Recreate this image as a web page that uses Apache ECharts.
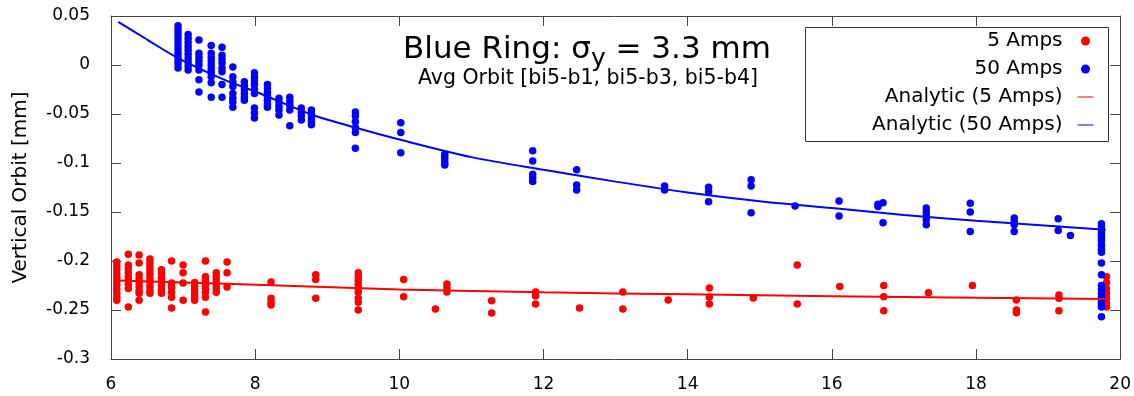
<!DOCTYPE html>
<html>
<head>
<meta charset="utf-8">
<script src="https://cdn.jsdelivr.net/npm/echarts@6/dist/echarts.min.js"></script>
<style>
  html, body { margin: 0; padding: 0; background: #ffffff; }
  #chart { width: 1134px; height: 396px; }
</style>
</head>
<body>
<div id="chart"></div>
<script>
// Bunch position along the ring (x) for each measured column, and the readings in that column (mm)
const amps5Cols = [6.08, 6.24, 6.39, 6.54, 6.70, 6.84, 7.00, 7.16, 7.31, 7.46, 7.61, 8.22, 8.84, 9.43,
  10.06, 10.50, 10.66, 11.28, 11.89, 12.50, 13.10, 13.73, 14.30, 14.91, 15.52, 16.11, 16.72, 17.34,
  17.95, 18.56, 19.15, 19.81];
const amps5Vals = [
  [-0.201, -0.205, -0.209, -0.213, -0.217, -0.221, -0.225, -0.229, -0.233, -0.237, -0.240],
  [-0.193, -0.204, -0.208, -0.212, -0.216, -0.220, -0.224, -0.228, -0.247],
  [-0.194, -0.202, -0.214, -0.218, -0.222, -0.226, -0.230, -0.233, -0.240],
  [-0.198, -0.202, -0.206, -0.210, -0.214, -0.218, -0.222, -0.226, -0.230, -0.233],
  [-0.209, -0.213, -0.217, -0.221, -0.225, -0.229, -0.233],
  [-0.200, -0.2225, -0.227, -0.232, -0.237, -0.248],
  [-0.204, -0.212, -0.2225, -0.240],
  [-0.222, -0.226, -0.230, -0.234, -0.237, -0.240],
  [-0.200, -0.216, -0.220, -0.224, -0.228, -0.232, -0.237, -0.252],
  [-0.212, -0.216, -0.220, -0.224, -0.228, -0.232],
  [-0.201, -0.212, -0.2265],
  [-0.2215, -0.238, -0.242, -0.245],
  [-0.214, -0.219, -0.238],
  [-0.212, -0.216, -0.220, -0.224, -0.228, -0.232, -0.238, -0.242, -0.250],
  [-0.219, -0.2365],
  [-0.249],
  [-0.2235, -0.2275, -0.2316],
  [-0.2405, -0.253],
  [-0.2316, -0.2357, -0.244],
  [-0.248],
  [-0.2316, -0.249],
  [-0.2398],
  [-0.2276, -0.2367, -0.244],
  [-0.2378],
  [-0.204, -0.244],
  [-0.226],
  [-0.225, -0.2364, -0.2507],
  [-0.2323],
  [-0.225],
  [-0.2398, -0.250, -0.2528],
  [-0.2347, -0.238, -0.2507],
  [-0.216, -0.222, -0.228, -0.233, -0.238, -0.243, -0.247]
];

const amps50Cols = [6.93, 7.07, 7.22, 7.39, 7.54, 7.69, 7.85, 7.99, 8.17, 8.33, 8.48, 8.64, 8.78,
  9.39, 10.02, 10.63, 11.85, 12.46, 13.68, 14.29, 14.88, 15.49, 16.10, 16.64, 16.71, 17.31, 17.92,
  18.53, 19.14, 19.31, 19.74];
const amps50Vals = [
  [0.040, 0.036, 0.032, 0.028, 0.024, 0.020, 0.016, 0.012, 0.008, 0.004, 0.001, -0.003],
  [0.031, 0.027, 0.023, 0.019, 0.015, 0.011, 0.007, 0.003, -0.001, -0.005],
  [0.0255, 0.012, 0.008, 0.004, 0.000, -0.005, -0.015, -0.0275],
  [0.020, 0.012, 0.008, 0.004, 0.000, -0.004, -0.008, -0.012, -0.018, -0.033],
  [0.018, 0.010, 0.006, 0.002, -0.003, -0.007, -0.020, -0.033],
  [-0.002, -0.012, -0.017, -0.022, -0.029, -0.034, -0.038, -0.043],
  [-0.017, -0.021, -0.025, -0.029, -0.033, -0.036],
  [-0.008, -0.012, -0.016, -0.020, -0.025, -0.029, -0.044, -0.049, -0.054],
  [-0.020, -0.024, -0.028, -0.032, -0.036, -0.040, -0.043],
  [-0.034, -0.038, -0.042, -0.046, -0.051],
  [-0.033, -0.037, -0.041, -0.046, -0.062],
  [-0.044, -0.048, -0.052, -0.056],
  [-0.046, -0.050, -0.054, -0.058, -0.061],
  [-0.048, -0.052, -0.058, -0.064, -0.069, -0.085],
  [-0.059, -0.069, -0.0895],
  [-0.091, -0.094, -0.097, -0.100, -0.102],
  [-0.0875, -0.098, -0.1115, -0.115, -0.119],
  [-0.107, -0.1225, -0.1275],
  [-0.1235, -0.1275],
  [-0.1248, -0.1293, -0.1395],
  [-0.117, -0.1235, -0.1507],
  [-0.1439],
  [-0.1388, -0.154],
  [-0.142, -0.1445],
  [-0.1405, -0.161],
  [-0.146, -0.150, -0.154, -0.158, -0.163],
  [-0.141, -0.150, -0.170],
  [-0.156, -0.160, -0.163, -0.170],
  [-0.157, -0.169],
  [-0.174],
  [-0.162, -0.165, -0.168, -0.171, -0.174, -0.177, -0.180, -0.184, -0.188, -0.191, -0.202,
   -0.214, -0.225, -0.229, -0.233, -0.237, -0.241, -0.244, -0.247, -0.257]
];

// Analytic orbit curves, sampled along the ring
const analytic5X = [6.1, 7.7, 10, 12, 14, 16, 18, 19.8];
const analytic5Y = [-0.220, -0.2235, -0.229, -0.232, -0.234, -0.236, -0.2375, -0.2388];
const analytic50X = [6.1, 6.5, 6.93, 7.6, 8, 8.8, 9.4, 10, 11, 12, 13, 14, 15, 16, 17, 18, 19, 19.8];
const analytic50Y = [0.044, 0.026, 0.007, -0.016, -0.027, -0.051, -0.064, -0.076, -0.094, -0.107,
  -0.119, -0.130, -0.139, -0.146, -0.153, -0.159, -0.164, -0.168];

const seriesNames = ['5 Amps', '50 Amps', 'Analytic (5 Amps)', 'Analytic (50 Amps)'];
const xTicks = { min: 6, max: 20, step: 2 };
const yTicks = { min: -0.3, max: 0.05, step: 0.05 };

const FONT = 'DejaVu Sans';

function columnsToPoints(cols, vals) {
  const pts = [];
  cols.forEach((x, i) => vals[i].forEach(y => pts.push([x, y])));
  return pts;
}
function zipXY(xs, ys) {
  return xs.map((x, i) => [x, ys[i]]);
}

const frameColor = '#444';
const axisCommon = {
  axisLine: { show: true, onZero: false, lineStyle: { color: frameColor, width: 1 } },
  axisTick: { show: true, inside: true, length: 10, lineStyle: { color: frameColor, width: 1 } },
  splitLine: { show: false }
};

const chart = echarts.init(document.getElementById('chart'), null, { renderer: 'canvas' });

chart.setOption({
  animation: false,
  backgroundColor: '#ffffff',
  textStyle: { fontFamily: FONT },
  grid: { left: 111, right: 11, top: 16, bottom: 37, containLabel: false },
  title: [
    {
      text: '{a|Blue Ring: σ}{s|y}{a| = 3.3 mm}',
      left: 398, top: 23,
      textStyle: {
        fontWeight: 'normal',
        rich: {
          a: { fontFamily: FONT, fontSize: 31, fontWeight: 'normal', color: '#000', lineHeight: 44 },
          s: { fontFamily: FONT, fontSize: 25, fontWeight: 'normal', color: '#000', lineHeight: 25, padding: [19, 0, 0, 0] }
        }
      }
    },
    {
      text: 'Avg Orbit [bi5-b1, bi5-b3, bi5-b4]',
      left: 413, top: 63,
      textStyle: { fontFamily: FONT, fontSize: 20.5, fontWeight: 'normal', color: '#000' }
    }
  ],
  legend: {
    orient: 'vertical',
    align: 'right',
    right: 40, top: 31,
    padding: 0,
    itemGap: 8,
    itemWidth: 16, itemHeight: 9,
    textStyle: { fontFamily: FONT, fontSize: 20, color: '#000', padding: [0, 10, 0, 0] },
    data: [
      { name: seriesNames[0], icon: 'circle' },
      { name: seriesNames[1], icon: 'circle' },
      { name: seriesNames[2], itemStyle: { opacity: 0 }, lineStyle: { width: 1 } },
      { name: seriesNames[3], itemStyle: { opacity: 0 }, lineStyle: { width: 1 } }
    ]
  },
  graphic: [
    {
      type: 'rect', z: 100, silent: true,
      shape: { x: 805.5, y: 27.5, width: 303, height: 114 },
      style: { fill: 'none', stroke: '#333', lineWidth: 1 }
    }
  ],
  xAxis: [
    Object.assign({
      type: 'value', position: 'bottom',
      min: xTicks.min, max: xTicks.max, interval: xTicks.step,
      axisLabel: { show: true, margin: 17, fontFamily: FONT, fontSize: 17, color: '#000' }
    }, axisCommon),
    Object.assign({
      type: 'value', position: 'top',
      min: xTicks.min, max: xTicks.max, interval: xTicks.step,
      axisLabel: { show: false }
    }, axisCommon)
  ],
  yAxis: [
    Object.assign({
      type: 'value', position: 'left',
      min: yTicks.min, max: yTicks.max, interval: yTicks.step,
      name: 'Vertical Orbit [mm]', nameLocation: 'middle', nameGap: 80,
      nameTextStyle: { fontFamily: FONT, fontSize: 20, color: '#000' },
      axisLabel: {
        show: true, margin: 21, fontFamily: FONT, fontSize: 17, color: '#000',
        formatter: v => String(Math.round(v * 100) / 100)
      }
    }, axisCommon),
    Object.assign({
      type: 'value', position: 'right',
      min: yTicks.min, max: yTicks.max, interval: yTicks.step,
      axisLabel: { show: false }
    }, axisCommon)
  ],
  series: [
    {
      name: seriesNames[0], type: 'scatter', xAxisIndex: 0, yAxisIndex: 0,
      symbol: 'circle', symbolSize: 7.5,
      itemStyle: { color: '#ff0000', opacity: 1 },
      data: columnsToPoints(amps5Cols, amps5Vals)
    },
    {
      name: seriesNames[1], type: 'scatter', xAxisIndex: 0, yAxisIndex: 0,
      symbol: 'circle', symbolSize: 7.5,
      itemStyle: { color: '#0000ff', opacity: 1 },
      data: columnsToPoints(amps50Cols, amps50Vals)
    },
    {
      name: seriesNames[2], type: 'line', xAxisIndex: 0, yAxisIndex: 0,
      symbol: 'none', smooth: 0.3,
      lineStyle: { color: '#ff0000', width: 2 },
      itemStyle: { color: '#ff0000' },
      data: zipXY(analytic5X, analytic5Y)
    },
    {
      name: seriesNames[3], type: 'line', xAxisIndex: 0, yAxisIndex: 0,
      symbol: 'none', smooth: 0.3,
      lineStyle: { color: '#0000ff', width: 2 },
      itemStyle: { color: '#0000ff' },
      data: zipXY(analytic50X, analytic50Y)
    }
  ]
});
</script>
</body>
</html>
